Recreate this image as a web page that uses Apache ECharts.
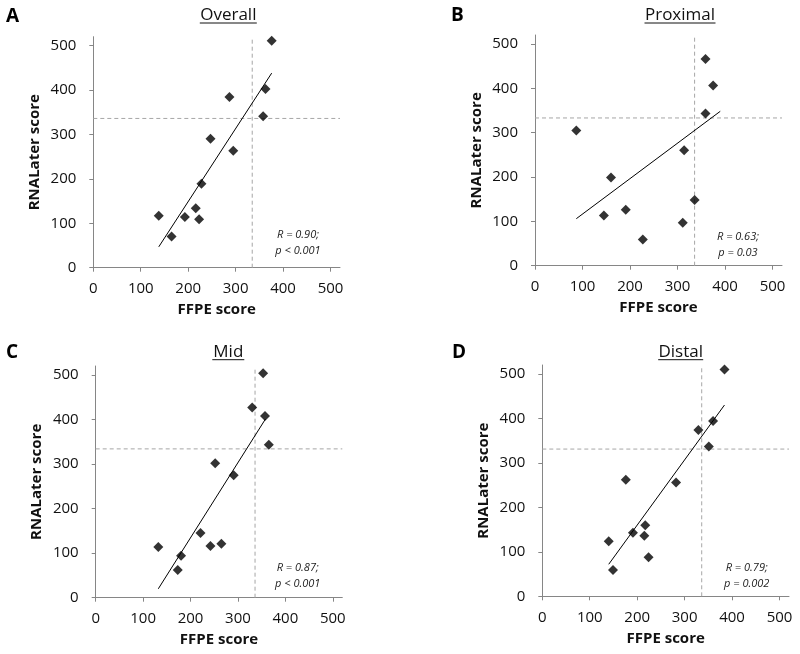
<!DOCTYPE html>
<html>
<head>
<meta charset="utf-8">
<script src="https://cdn.jsdelivr.net/npm/echarts@6/dist/echarts.min.js"></script>
<style>
html,body{margin:0;padding:0;background:#fff;}
#chart{width:800px;height:654px;}
</style>
</head>
<body>
<div id="chart"></div>
<script>
// ---- data ----
const tickValues = [0, 100, 200, 300, 400, 500];
const axisMax = 520;

const panelLetters = ['A', 'B', 'C', 'D'];
const panelTitles = ['Overall', 'Proximal', 'Mid', 'Distal'];
const xAxisTitle = 'FFPE score';
const yAxisTitle = 'RNALater score';
const statLines = [
  ['R = 0.90;', 'p < 0.001'],
  ['R = 0.63;', 'p = 0.03'],
  ['R = 0.87;', 'p < 0.001'],
  ['R = 0.79;', 'p = 0.002']
];

const overallFFPE = [138, 165, 193, 216, 223, 228, 247, 287, 295, 358, 363, 376];
const overallRNA  = [117, 70, 114, 134, 109, 189, 290, 384, 263, 341, 402, 511];
const overallFitX = [138, 376];
const overallFitY = [47, 438];
const overallCutFFPE = 335;
const overallCutRNA = 336;

const proximalFFPE = [87, 145, 160, 191, 227, 311, 314, 336, 359, 359, 375];
const proximalRNA  = [305, 113, 199, 126, 59, 97, 260, 148, 466, 343, 406];
const proximalFitX = [87, 390];
const proximalFitY = [106, 348];
const proximalCutFFPE = 336;
const proximalCutRNA = 333;

const midFFPE = [132, 173, 180, 221, 242, 252, 265, 291, 330, 353, 357, 365];
const midRNA  = [114, 62, 94, 145, 116, 302, 121, 275, 427, 504, 408, 343];
const midFitX = [132, 358];
const midFitY = [20, 401];
const midCutFFPE = 336;
const midCutRNA = 334;

const distalFFPE = [140, 149, 176, 191, 215, 217, 224, 282, 329, 351, 360, 384];
const distalRNA  = [124, 59, 262, 143, 136, 160, 88, 256, 374, 337, 394, 510];
const distalFitX = [140, 384];
const distalFitY = [72, 430];
const distalCutFFPE = 336;
const distalCutRNA = 331;

// ---- layout / style ----
const panels = [
  {ffpe: overallFFPE, rna: overallRNA, fx: overallFitX, fy: overallFitY, cx: overallCutFFPE, cy: overallCutRNA},
  {ffpe: proximalFFPE, rna: proximalRNA, fx: proximalFitX, fy: proximalFitY, cx: proximalCutFFPE, cy: proximalCutRNA},
  {ffpe: midFFPE, rna: midRNA, fx: midFitX, fy: midFitY, cx: midCutFFPE, cy: midCutRNA},
  {ffpe: distalFFPE, rna: distalRNA, fx: distalFitX, fy: distalFitY, cx: distalCutFFPE, cy: distalCutRNA}
];
const gridBoxes = [
  {left: 93.3, top: 36.7, width: 246.7, height: 231},
  {left: 535, top: 35, width: 247, height: 230.7},
  {left: 95.7, top: 366, width: 246.6, height: 231.7},
  {left: 542.3, top: 365, width: 246.7, height: 231.3}
];
const letterPos = [[6, 7], [451, 6], [6, 343], [452, 343]];
const titlePos = [[228.3, 15], [680, 15], [228.3, 351.7], [680.7, 351.7]];
const statPos = [[298, 235], [738, 236.5], [297.7, 568.3], [746.7, 567.7]];

const FONT = '"Open Sans", sans-serif';
const axisGray = '#868686';
const dashGray = '#a6a6a6';

const grids = [], xAxes = [], yAxes = [], series = [], graphics = [];

panels.forEach((p, i) => {
  grids.push(Object.assign({outerBoundsMode: 'none', containLabel: false}, gridBoxes[i]));
  const common = {
    min: 0, max: axisMax, interval: 100,
    gridIndex: i,
    splitLine: {show: false},
    axisLine: {show: true, onZero: false, lineStyle: {color: axisGray, width: 1}},
    axisTick: {show: true, inside: false, length: 4, customValues: tickValues, lineStyle: {color: axisGray}},
    axisLabel: {customValues: tickValues, fontFamily: FONT, fontSize: 15, color: '#111'},
    nameLocation: 'middle',
    nameTextStyle: {fontFamily: FONT, fontSize: 15, fontWeight: 'bold', color: '#111'}
  };
  xAxes.push(Object.assign({}, common, {
    type: 'value', name: xAxisTitle, nameGap: 35,
    axisLabel: Object.assign({}, common.axisLabel, {margin: 14})
  }));
  yAxes.push(Object.assign({}, common, {
    type: 'value', name: yAxisTitle, nameGap: 51,
    axisLabel: Object.assign({}, common.axisLabel, {margin: 17})
  }));

  // cut-off dashed lines
  series.push({
    type: 'line', xAxisIndex: i, yAxisIndex: i, silent: true, symbol: 'none', clip: false,
    data: [[0, p.cy], [axisMax, p.cy]],
    lineStyle: {color: dashGray, width: 1, type: [4, 3]}, z: 1
  });
  series.push({
    type: 'line', xAxisIndex: i, yAxisIndex: i, silent: true, symbol: 'none', clip: false,
    data: [[p.cx, 0], [p.cx, axisMax - 3]],
    lineStyle: {color: dashGray, width: 1, type: [4, 3]}, z: 1
  });
  // regression line
  series.push({
    type: 'line', xAxisIndex: i, yAxisIndex: i, silent: true, symbol: 'none',
    data: p.fx.map((x, k) => [x, p.fy[k]]),
    lineStyle: {color: '#000', width: 1}, z: 2
  });
  // points
  series.push({
    type: 'scatter', xAxisIndex: i, yAxisIndex: i, symbol: 'diamond', symbolSize: 10,
    data: p.ffpe.map((x, k) => [x, p.rna[k]]),
    itemStyle: {color: '#000'}, z: 3
  });

  // panel letter
  graphics.push({
    type: 'text', left: letterPos[i][0], top: letterPos[i][1],
    style: {text: panelLetters[i], font: 'bold 19px ' + FONT, fill: '#000'}
  });
  // underlined title
  graphics.push({
    type: 'text', x: titlePos[i][0], y: titlePos[i][1],
    style: {text: panelTitles[i], font: '17px ' + FONT, fill: '#111', align: 'center', verticalAlign: 'middle'}
  });
  const tw = {Overall: 57, Proximal: 71, Mid: 32, Distal: 45}[panelTitles[i]];
  graphics.push({
    type: 'line', shape: {x1: titlePos[i][0] - tw / 2, y1: titlePos[i][1] + 8, x2: titlePos[i][0] + tw / 2, y2: titlePos[i][1] + 8},
    style: {stroke: '#111', lineWidth: 1}
  });
  // statistics
  statLines[i].forEach((t, k) => {
    graphics.push({
      type: 'text', x: statPos[i][0], y: statPos[i][1] + k * 16,
      style: {text: t, font: 'italic 11px ' + FONT, fill: '#222', align: 'center', verticalAlign: 'middle'}
    });
  });
});

const chart = echarts.init(document.getElementById('chart'), null, {renderer: 'canvas'});
chart.setOption({
  backgroundColor: '#fff',
  animation: false,
  grid: grids,
  xAxis: xAxes,
  yAxis: yAxes,
  series: series,
  graphic: graphics
});
</script>
</body>
</html>
